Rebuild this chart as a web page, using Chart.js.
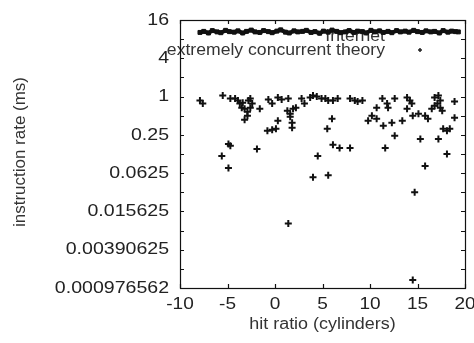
<!DOCTYPE html>
<html>
<head>
<meta charset="utf-8">
<script src="https://cdn.jsdelivr.net/npm/chart.js@4.4.1/dist/chart.umd.min.js"></script>
<style>
html,body{margin:0;padding:0;background:#fff;}
#wrap{width:474px;height:343px;position:relative;}
</style>
</head>
<body>
<div id="wrap"><canvas id="c" width="474" height="343"></canvas></div>
<script>
// ---- data ----
const seriesNames = ['Internet', 'extremely concurrent theory'];

const internetX = [-7.9,-7.5,-7.0,-6.6,-6.1,-5.7,-5.2,-4.8,-4.3,-3.9,-3.4,-3.0,-2.5,-2.1,-1.6,-1.2,-0.7,-0.3,0.2,0.6,1.1,1.5,2.0,2.4,2.9,3.3,3.8,4.2,4.7,5.1,5.6,6.0,6.5,6.9,7.4,7.8,8.3,8.7,9.2,9.6,10.1,10.5,11.0,11.4,11.9,12.3,12.8,13.2,13.7,14.1,14.6,15.0,15.5,15.9,16.4,16.8,17.3,17.7,18.2,18.6,19.0,19.3];
const internetY = [10.2,10.6,10.0,10.9,10.4,10.1,11.0,10.5,10.3,10.8,10.0,10.6,11.1,10.4,10.2,10.9,10.5,10.1,10.7,11.2,10.3,10.0,10.8,10.4,10.6,11.0,10.2,10.5,9.9,10.7,10.3,11.1,10.6,10.1,10.4,10.9,10.2,10.7,10.5,10.0,11.0,10.4,10.8,10.2,10.6,10.1,10.9,10.4,10.7,10.3,11.0,10.5,10.2,10.8,10.4,10.6,10.0,10.9,10.3,10.7,10.5,10.4];

const theoryX = [-7.9,-7.6,-5.5,-4.7,-4.2,-3.9,-3.7,-3.5,-3.2,-3.4,-2.8,-2.6,-2.4,-2.6,-2.9,-2.9,-3.2,-1.6,-0.7,-0.3,0.3,0.7,1.4,1.3,1.6,1.9,2.2,1.6,1.8,1.8,0.3,-0.8,-0.3,0.1,2.8,3.1,3.7,4.0,4.4,4.9,5.3,5.6,6.1,6.6,7.9,8.4,8.7,9.2,6.0,5.5,9.8,10.2,10.7,11.3,11.8,11.9,12.6,10.7,11.4,12.3,13.4,13.9,14.2,14.4,13.9,14.5,15.1,15.8,16.1,16.5,16.8,17.2,17.4,17.4,17.1,17.6,16.8,18.9,18.9,17.7,18.1,18.4,12.6,15.3,17.2,-4.9,-4.7,-5.6,-1.9,-4.9,4.5,4.0,5.6,6.1,6.8,7.9,11.6,18.1,15.8,14.7,1.4,14.5];
const theoryY = [0.864,0.775,1.037,0.930,0.930,0.864,0.775,0.669,0.646,0.803,0.864,0.930,0.775,0.669,0.579,0.5,0.432,0.646,0.896,0.775,0.964,0.896,0.930,0.600,0.538,0.646,0.669,0.482,0.387,0.322,0.417,0.289,0.300,0.311,0.930,0.775,0.964,1.037,1.0,0.930,0.930,0.864,0.864,0.930,0.930,0.864,0.833,0.864,0.448,0.311,0.417,0.5,0.669,0.930,0.775,0.669,0.930,0.448,0.347,0.387,0.417,0.964,0.864,0.775,0.646,0.5,0.538,0.5,0.448,0.646,0.964,1.037,0.864,0.669,0.775,0.600,0.720,0.833,0.465,0.311,0.289,0.311,0.241,0.216,0.216,0.180,0.168,0.116,0.150,0.0750,0.116,0.0541,0.0581,0.174,0.156,0.156,0.156,0.125,0.0806,0.03125,0.0101,0.00131];

const xTickValues = [-10,-5,0,5,10,15,20];
const xTickLabels = ['-10','-5','0','5','10','15','20'];
const yTickValues = [16,4,1,0.25,0.0625,0.015625,0.00390625,0.0009765625];
const yTickLabels = ['16','4','1','0.25','0.0625','0.015625','0.00390625','0.000976562'];
const yMinorTickValues = [8,2,0.5,0.125,0.03125,0.0078125,0.001953125];
const xTitle = 'hit ratio (cylinders)';
const yTitle = 'instruction rate (ms)';

const toPoints = (xs, ys) => xs.map((x, i) => ({x: x, y: ys[i]}));

const FONT = '"Liberation Sans", Arial, sans-serif';

function stretchText(ctx, text, x, y, align, sx) {
  ctx.save();
  ctx.translate(x, y);
  ctx.scale(sx, 1);
  ctx.textAlign = align;
  ctx.fillText(text, 0, 0);
  ctx.restore();
}

const decor = {
  id: 'decor',
  beforeDatasetsDraw(chart) {
    const ctx = chart.ctx;
    ctx.save();
    ctx.fillStyle = '#333';
    ctx.font = '16px ' + FONT;
    ctx.textBaseline = 'middle';
    stretchText(ctx, seriesNames[0], 385, 37, 'right', 1.1);
    stretchText(ctx, seriesNames[1], 385, 51, 'right', 1.1);
    ctx.strokeStyle = '#222';
    ctx.lineWidth = 1.5;
    ctx.beginPath();
    ctx.moveTo(418, 50); ctx.lineTo(422, 50);
    ctx.moveTo(420, 48); ctx.lineTo(420, 52);
    ctx.stroke();
    ctx.restore();
  },
  afterDraw(chart) {
    const ctx = chart.ctx;
    const a = chart.chartArea;
    const xs = chart.scales.x, ys = chart.scales.y;
    ctx.save();
    ctx.strokeStyle = '#111';
    ctx.lineWidth = 1.2;
    ctx.strokeRect(Math.round(a.left) + 0.5, Math.round(a.top) + 0.5, Math.round(a.right - a.left), Math.round(a.bottom - a.top));
    const tl = 4;
    ctx.beginPath();
    xTickValues.forEach(v => {
      const px = Math.round(xs.getPixelForValue(v)) + 0.5;
      ctx.moveTo(px, a.bottom); ctx.lineTo(px, a.bottom - tl);
      ctx.moveTo(px, a.top); ctx.lineTo(px, a.top + tl);
    });
    yTickValues.concat(yMinorTickValues).forEach(v => {
      const py = Math.round(ys.getPixelForValue(v)) + 0.5;
      ctx.moveTo(a.left, py); ctx.lineTo(a.left + tl, py);
      ctx.moveTo(a.right, py); ctx.lineTo(a.right - tl, py);
    });
    ctx.stroke();
    ctx.fillStyle = '#222';
    ctx.font = '17px ' + FONT;
    ctx.textBaseline = 'middle';
    xTickValues.forEach((v, i) => {
      stretchText(ctx, xTickLabels[i], xs.getPixelForValue(v), 304, 'center', 1.12);
    });
    yTickValues.forEach((v, i) => {
      stretchText(ctx, yTickLabels[i], 169, ys.getPixelForValue(v), 'right', 1.15);
    });
    ctx.fillStyle = '#333';
    ctx.font = '16px ' + FONT;
    stretchText(ctx, xTitle, (a.left + a.right) / 2, 325, 'center', 1.12);
    ctx.translate(21, 152);
    ctx.rotate(-Math.PI / 2);
    stretchText(ctx, yTitle, 0, 0, 'center', 1.06);
    ctx.restore();
  }
};

new Chart(document.getElementById('c'), {
  type: 'scatter',
  data: {
    datasets: [
      {
        label: seriesNames[0],
        data: toPoints(internetX, internetY),
        showLine: true,
        borderColor: '#111',
        backgroundColor: '#111',
        borderWidth: 4,
        pointStyle: 'rect',
        pointRadius: 2.8,
        pointBorderWidth: 1
      },
      {
        label: seriesNames[1],
        data: toPoints(theoryX, theoryY),
        showLine: false,
        borderColor: '#111',
        backgroundColor: '#111',
        pointStyle: 'cross',
        pointRadius: 3.5,
        pointBorderWidth: 2
      }
    ]
  },
  options: {
    responsive: false,
    animation: false,
    devicePixelRatio: 1,
    layout: { padding: { left: 180, right: 9, top: 20, bottom: 55 } },
    plugins: { legend: { display: false }, tooltip: { enabled: false } },
    scales: {
      x: { type: 'linear', min: -10, max: 20, display: false },
      y: { type: 'logarithmic', min: 0.0009765625, max: 16, display: false }
    }
  },
  plugins: [decor]
});
</script>
</body>
</html>
